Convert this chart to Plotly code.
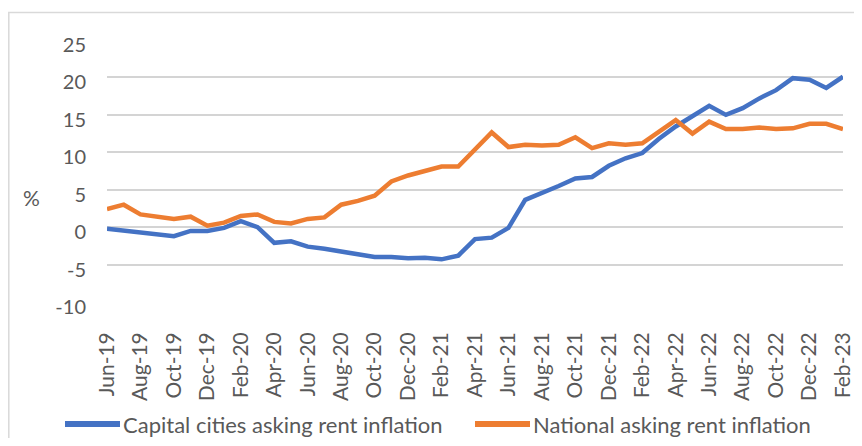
import plotly.graph_objects as go

months = [
    "Jun-19", "Jul-19", "Aug-19", "Sep-19", "Oct-19", "Nov-19", "Dec-19",
    "Jan-20", "Feb-20", "Mar-20", "Apr-20", "May-20", "Jun-20", "Jul-20",
    "Aug-20", "Sep-20", "Oct-20", "Nov-20", "Dec-20", "Jan-21", "Feb-21",
    "Mar-21", "Apr-21", "May-21", "Jun-21", "Jul-21", "Aug-21", "Sep-21",
    "Oct-21", "Nov-21", "Dec-21", "Jan-22", "Feb-22", "Mar-22", "Apr-22",
    "May-22", "Jun-22", "Jul-22", "Aug-22", "Sep-22", "Oct-22", "Nov-22",
    "Dec-22", "Jan-23", "Feb-23",
]

capital = [
    -0.2, -0.45, -0.7, -0.85, -1.2, -0.5, -0.5, -0.1, 0.8, 0.0,
    -2.1, -1.9, -2.6, -2.9, -3.3, -3.7, -4.0, -4.0, -4.15, -4.1,
    -4.3, -3.8, -1.6, -1.4, -0.1, 3.65, 4.5, 5.5, 6.5, 6.7,
    8.2, 9.2, 9.9, 11.8, 13.45, 14.8, 16.2, 15.0, 15.9, 17.2,
    18.3, 19.9, 19.7, 18.6, 20.1,
]

national = [
    2.4, 3.0, 1.7, 1.4, 1.1, 1.4, 0.2, 0.6, 1.5, 1.7,
    0.7, 0.5, 1.1, 1.3, 3.0, 3.5, 4.2, 6.1, 6.9, 7.5,
    8.1, 8.1, 10.3, 12.65, 10.7, 11.0, 10.9, 11.0, 12.0, 10.55,
    11.2, 11.0, 11.2, 12.8, 14.3, 12.5, 14.1, 13.1, 13.1, 13.3,
    13.1, 13.2, 13.8, 13.8, 13.1,
]

series_names = ["Capital cities asking rent inflation", "National asking rent inflation"]
colors = ["#4472C4", "#ED7D31"]
y_ticks = [-10, -5, 0, 5, 10, 15, 20, 25]
y_tick_text = ["-10", "-5", "0", "5", "10", "15", "20", "25"]

FONT = "Lato, Calibri, Carlito, 'Liberation Sans', sans-serif"
GREY = "#595959"

# page body has an 8px margin; keep the figure inside the viewport
OFF = 8
W, H = 846, 430
L, T = 107 - OFF, 40 - OFF
R = W - (843 - OFF)
B = H - (302 - OFF)
pw, ph = W - L - R, H - T - B

def px_x(x):
    return (x - OFF - L) / pw

def px_y(y):
    return (H - B - (y - OFF)) / ph

fig = go.Figure()
for vals, name, col in zip([capital, national], series_names, colors):
    fig.add_trace(go.Scatter(
        x=months, y=vals, mode="lines", name=name,
        line=dict(color=col, width=4.5), showlegend=False,
    ))

shapes = [
    dict(type="rect", xref="paper", yref="paper",
         x0=px_x(OFF + 0.8), x1=px_x(880), y0=px_y(470), y1=px_y(12.5),
         line=dict(color="#d9d9d9", width=1.5), layer="below"),
]
annotations = [
    dict(text="%", xref="paper", yref="paper", x=px_x(31), y=px_y(197),
         showarrow=False, font=dict(family=FONT, size=21, color=GREY),
         xanchor="center", yanchor="middle"),
]
legend_pos = [(65, 122), (475, 532)]
for (lx, tx), name, col in zip(legend_pos, series_names, colors):
    shapes.append(dict(type="line", xref="paper", yref="paper",
                       x0=px_x(lx), x1=px_x(tx - 2), y0=px_y(424), y1=px_y(424),
                       line=dict(color=col, width=6)))
    annotations.append(dict(text=name, xref="paper", yref="paper",
                            x=px_x(tx), y=px_y(424), showarrow=False,
                            xanchor="left", yanchor="middle", borderpad=0,
                            font=dict(family=FONT, size=22, color=GREY)))

fig.update_layout(
    width=W, height=H,
    margin=dict(l=L, r=R, t=T, b=B, pad=0, autoexpand=False),
    paper_bgcolor="white", plot_bgcolor="white",
    font=dict(family=FONT, color=GREY),
    shapes=shapes, annotations=annotations,
    showlegend=False,
)
fig.update_xaxes(
    type="category", tickvals=months[::2], tickangle=-90,
    showgrid=False, showline=False, zeroline=False, ticks="",
    tickfont=dict(family=FONT, size=21, color=GREY),
    ticklabelstandoff=25, ticklabelshift=0, automargin=False,
)
fig.update_yaxes(
    range=[-10, 25], tickvals=y_ticks, ticktext=y_tick_text, showgrid=True,
    gridcolor="#d4d4d4", gridwidth=2, zeroline=False, showline=False,
    ticks="", tickfont=dict(family=FONT, size=20, color=GREY),
    ticklabelstandoff=20, ticklabelshift=5, automargin=False,
)

fig.write_html("out.html")
